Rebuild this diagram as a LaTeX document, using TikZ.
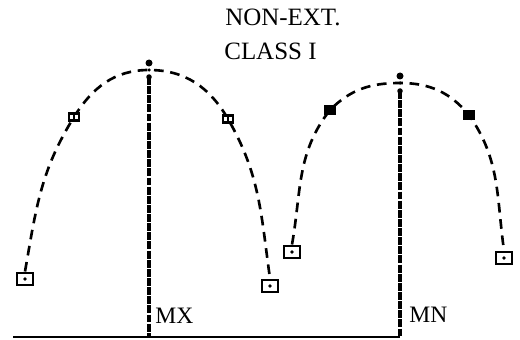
\documentclass[tikz,border=0pt]{standalone}
\usepackage{fontspec}
\setmainfont{Liberation Serif}
\usetikzlibrary{positioning,backgrounds}
\pgfdeclarelayer{edgelayer}
\pgfdeclarelayer{nodelayer}
\pgfsetlayers{background,edgelayer,nodelayer,main}
\tikzstyle{none}=[inner sep=0mm]
\tikzstyle{black dot}=[inner sep=0pt,minimum size=0.14cm,fill=black,shape=circle]
\tikzstyle{tiny dot}=[inner sep=0pt,minimum size=0.07cm,fill=black,shape=circle]
\tikzstyle{big box}=[rectangle,draw=black,fill=white,line width=1.4pt,inner sep=0pt,minimum width=0.31cm,minimum height=0.25cm,path picture={\fill[black] (path picture bounding box.center) circle (1.1pt);}]
\tikzstyle{small box}=[rectangle,draw=black,fill=white,line width=1.2pt,inner sep=0pt,minimum width=0.2cm,minimum height=0.14cm,path picture={\draw[black,line width=1.2pt] (path picture bounding box.north) -- (path picture bounding box.south);}]
\tikzstyle{dark box}=[small box,fill=black]
\tikzstyle{arc}=[line width=1.5pt,dash pattern=on 5.5pt off 3.8pt]
\tikzstyle{stem}=[line width=2pt,dash pattern=on 4.5pt off 0.7pt]
\tikzstyle{foot text}=[inner sep=0pt,anchor=base west,font=\fontsize{13.4}{16}\selectfont]
\tikzstyle{head text}=[inner sep=0pt,anchor=base west,font=\fontsize{14.2}{17}\selectfont]

\begin{document}
\begin{tikzpicture}
	\useasboundingbox (0,0) rectangle (10.4,6.78);
	\begin{pgfonlayer}{nodelayer}
		\node [style={head text}] (t1) at (4.50, 6.26) {NON-EXT.};
		\node [style={head text}] (t2) at (4.48, 5.58) {CLASS I};
		% left arch
		\node [style={big box}] (l1) at (0.50, 1.20) {};
		\node [style={small box}] (l2) at (1.48, 4.44) {};
		\node [style={black dot}] (lt) at (2.98, 5.52) {};
		\node [style={tiny dot}] (lc) at (2.98, 5.38) {};
		\node [style={black dot},minimum size=0.11cm] (ls) at (2.98, 5.24) {};
		\node [style={small box}] (l3) at (4.56, 4.40) {};
		\node [style={big box}] (l4) at (5.40, 1.06) {};
		% right arch
		\node [style={big box}] (r1) at (5.84, 1.74) {};
		\node [style={dark box}] (r2) at (6.60, 4.58) {};
		\node [style={black dot}] (rt) at (8.00, 5.26) {};
		\node [style={tiny dot}] (rc) at (8.00, 5.12) {};
		\node [style={black dot},minimum size=0.11cm] (rs) at (8.00, 4.96) {};
		\node [style={dark box}] (r3) at (9.38, 4.48) {};
		\node [style={big box}] (r4) at (10.08, 1.62) {};
		% baseline
		\coordinate (b0) at (0.26, 0.04);
		\coordinate (lf) at (2.98, 0.04);
		\coordinate (rf) at (8.00, 0.04);
		\node [style={foot text}] (mx) at (3.10, 0.32) {MX};
		\node [style={foot text}] (mn) at (8.18, 0.34) {MN};
	\end{pgfonlayer}
	\begin{pgfonlayer}{edgelayer}
		\draw [style=arc] (l1.north) to[out=80,in=-122] (l2.center)
			to[out=58,in=180] (lc.center) to[out=0,in=120] (l3.center)
			to[out=-60,in=98] (l4.north);
		\draw [style=arc] (r1.north) to[out=80,in=-128] (r2.center)
			to[out=45,in=180] (rc.center) to[out=0,in=130] (r3.center)
			to[out=-55,in=98] (r4.north);
		\draw [style=stem] (ls.center) -- (lf);
		\draw [style=stem] (rs.center) -- (rf);
		\draw [line width=1pt] (b0) -- (rf);
	\end{pgfonlayer}
\end{tikzpicture}
\end{document}
